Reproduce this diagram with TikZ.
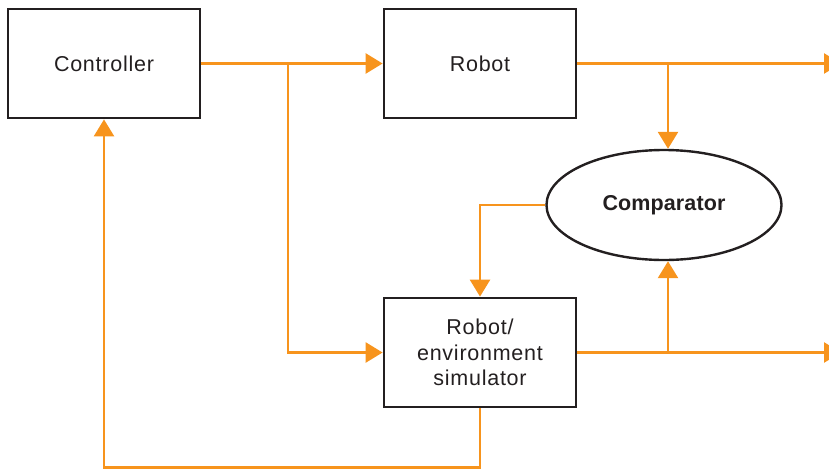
\documentclass[tikz,border=0pt]{standalone}
\usepackage{fontspec}
\setmainfont[LetterSpace=3.5]{Liberation Sans}
\usetikzlibrary{arrows.meta,shapes.geometric}
\definecolor{flow}{HTML}{F7941D}
\definecolor{ink}{HTML}{231F20}
\tikzset{
  blockbox/.style={draw=ink, line width=2.8pt, rectangle, minimum width=192pt, minimum height=109pt, align=center, font=\fontsize{21.5}{25.5}\selectfont, text=ink},
  compbox/.style={draw=ink, line width=2.4pt, ellipse, minimum width=235pt, minimum height=110pt, font=\fontsize{21.5}{25.5}\selectfont\bfseries\addfontfeature{LetterSpace=0.5}, text=ink},
  flowline/.style={draw=flow, line width=2.6pt},
  flowarrow/.style={flowline, -{Triangle[length=17pt,width=20pt]}}
}
\begin{document}
\begin{tikzpicture}[x=1pt,y=-1pt]
\useasboundingbox (0,0) rectangle (829,469);
\clip (0,0) rectangle (829,469);
\node[blockbox] (ctrl) at (104,63.5) {Controller};
\node[blockbox] (robot) at (480,63.5) {Robot};
\node[blockbox] (sim) at (480,352.5) {Robot/\\environment\\simulator};
\node[compbox] (comp) at (664,205) {Comparator};
\coordinate (b1) at (288,63.5);
\coordinate (b2) at (668,63.5);
\coordinate (b3) at (668,352.5);
\coordinate (out1) at (841,63.5);
\coordinate (out2) at (841,352.5);
\coordinate (bot) at (0,467.5);
\draw[flowarrow] (ctrl.east) -- (robot.west);
\draw[flowarrow] (b1) |- (sim.west);
\draw[flowarrow] (robot.east) -- (out1);
\draw[flowarrow] (b2) -- (b2 |- comp.north);
\draw[flowarrow] (sim.east) -- (out2);
\draw[flowarrow] (b3) -- (b3 |- comp.south);
\draw[flowarrow] (comp.west) -| (sim.north);
\draw[flowarrow] (sim.south) -- (sim.south |- bot) -| (ctrl.south);
\end{tikzpicture}
\end{document}
